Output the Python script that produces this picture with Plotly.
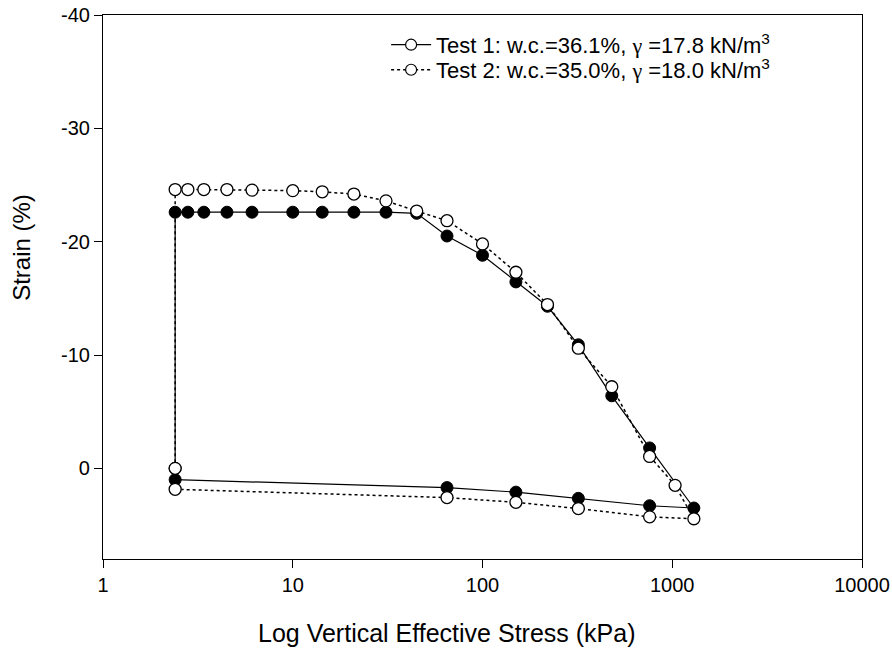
import plotly.graph_objects as go

# Test 1 (filled circles, solid line)
t1_stress = [2.4, 2.4, 2.8, 3.4, 4.5, 6.1, 10, 14.3, 21, 31, 45, 65, 100, 150, 220, 320, 480, 760, 1300,
             760, 320, 150, 65, 2.4]
t1_strain = [0.0, -22.6, -22.6, -22.6, -22.6, -22.6, -22.6, -22.6, -22.6, -22.6, -22.5, -20.5, -18.8, -16.45,
             -14.3, -10.9, -6.4, -1.8, 3.5, 3.3, 2.65, 2.1, 1.7, 1.0]

# Test 2 (open circles, dotted line)
t2_stress = [2.4, 2.4, 2.8, 3.4, 4.5, 6.1, 10, 14.3, 21, 31, 45, 65, 100, 150, 220, 320, 480, 760, 1035, 1300,
             760, 320, 150, 65, 2.4]
t2_strain = [0.0, -24.6, -24.6, -24.6, -24.6, -24.55, -24.5, -24.4, -24.2, -23.6, -22.7, -21.85, -19.8, -17.3,
             -14.45, -10.6, -7.2, -1.05, 1.5, 4.45, 4.28, 3.55, 3.0, 2.58, 1.85]

GAMMA = "<span style='font-family:Liberation Serif, Times New Roman, serif'>\u03b3</span>"
legend_names = ["Test 1: w.c.=36.1%, " + GAMMA + " =17.8 kN/m<sup>3</sup>",
                "Test 2: w.c.=35.0%, " + GAMMA + " =18.0 kN/m<sup>3</sup>"]

x_ticks = [1, 10, 100, 1000, 10000]
x_ticktext = ["1", "10", "100", "1000", "10000"]
y_ticks = [-40, -30, -20, -10, 0]
y_ticktext = ["-40", "-30", "-20", "-10", "0"]

x_title = "Log Vertical Effective Stress (kPa)"
y_title = "Strain (%)"

FONT = "Liberation Sans, Arial, sans-serif"

fig = go.Figure()

fig.add_trace(go.Scatter(
    x=t1_stress, y=t1_strain, mode="lines+markers", showlegend=False,
    line=dict(color="black", width=1.2),
    marker=dict(symbol="circle", size=12, color="black", line=dict(color="black", width=1))))

fig.add_trace(go.Scatter(
    x=t2_stress, y=t2_strain, mode="lines+markers", showlegend=False,
    line=dict(color="black", width=1.5, dash="dot"),
    marker=dict(symbol="circle", size=12, color="white", line=dict(color="black", width=1.3))))

# legend entries (open circles for both, as in the original)
fig.add_trace(go.Scatter(
    x=[None], y=[None], mode="lines+markers", name=legend_names[0], legend="legend",
    line=dict(color="black", width=1.2),
    marker=dict(symbol="circle", size=11, color="white", line=dict(color="black", width=1.2))))
fig.add_trace(go.Scatter(
    x=[None], y=[None], mode="lines+markers", name=legend_names[1], legend="legend2",
    line=dict(color="black", width=1.5, dash="dot"),
    marker=dict(symbol="circle", size=11, color="white", line=dict(color="black", width=1.2))))

fig.add_annotation(text=x_title, xref="paper", yref="paper", x=0.453, y=-0.136,
                   xanchor="center", yanchor="middle", showarrow=False, font=dict(size=25))
fig.add_annotation(text=y_title, xref="paper", yref="paper", x=-0.1067, y=0.572,
                   xanchor="center", yanchor="middle", showarrow=False, textangle=-90,
                   font=dict(size=24))

legend_common = dict(xanchor="left", yanchor="middle", bgcolor="rgba(0,0,0,0)",
                     font=dict(size=22), itemwidth=40)

fig.update_layout(
    width=892, height=651,
    margin=dict(l=103, r=30, t=15, b=92),
    paper_bgcolor="white", plot_bgcolor="white",
    font=dict(family=FONT, color="black", size=20),
    legend=dict(x=0.373, y=0.945, **legend_common),
    legend2=dict(x=0.373, y=0.899, **legend_common),
    xaxis=dict(type="log", range=[0, 4], tickvals=x_ticks, ticktext=x_ticktext, automargin=False,
               showgrid=False, zeroline=False, showline=True, linecolor="black", linewidth=1.2,
               mirror=True, ticks="outside", ticklen=8, tickcolor="black", tickwidth=1,
               tickfont=dict(size=20)),
    yaxis=dict(range=[8, -40], tickvals=y_ticks, ticktext=y_ticktext, automargin=False,
               showgrid=False, zeroline=False, showline=True, linecolor="black", linewidth=1.2,
               mirror=True, ticks="outside", ticklen=8, tickcolor="black", tickwidth=1,
               tickfont=dict(size=20)),
)

# remove the default page margin so the 892x651 figure fills the window exactly
fig.write_html("out.html", config={"displayModeBar": False},
               post_script="document.body.style.margin='0';document.body.style.overflow='hidden';")
